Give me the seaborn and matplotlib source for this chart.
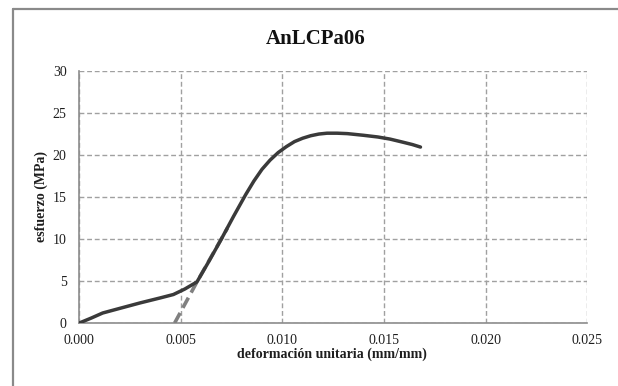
import numpy as np
import pandas as pd
import matplotlib
matplotlib.use("Agg")
import matplotlib.pyplot as plt
from matplotlib.lines import Line2D
import seaborn as sns

# Curva esfuerzo-deformacion
deformacion = [0.0, 0.0006, 0.00116, 0.0020, 0.0030, 0.0040, 0.00464, 0.0052, 0.0058,
               0.0064, 0.0070, 0.0076, 0.0082, 0.0086, 0.0090, 0.0094, 0.0098,
               0.0102, 0.0106, 0.0110, 0.0114, 0.0118, 0.0122, 0.0127, 0.0132,
               0.0140, 0.0147, 0.0153, 0.0159, 0.0164, 0.0168]
esfuerzo = [0.0, 0.6, 1.2, 1.75, 2.4, 3.0, 3.4, 4.05, 4.9,
            7.4, 10.0, 12.7, 15.3, 16.9, 18.3, 19.4, 20.3,
            21.0, 21.6, 22.0, 22.3, 22.5, 22.6, 22.6, 22.55,
            22.35, 22.15, 21.9, 21.55, 21.25, 20.95]

# Recta de descarga / desplazamiento (discontinua)
recta_x = [0.0047, 0.0058, 0.0073]
recta_y = [0.0, 4.9, 11.3]

curva = pd.DataFrame({"x": deformacion, "y": esfuerzo})
recta = pd.DataFrame({"x": recta_x, "y": recta_y})

sns.set_style("white")
plt.rcParams["font.family"] = ["Liberation Serif", "DejaVu Serif"]

fig = plt.figure(figsize=(6.18, 3.86), dpi=100)
ax = fig.add_axes([0.128, 0.163, 0.822, 0.653])

sns.lineplot(data=recta, x="x", y="y", ax=ax, color="#808080", lw=2.6,
             linestyle=(0, (3.2, 1.6)), sort=False, zorder=3)
sns.lineplot(data=curva, x="x", y="y", ax=ax, color="#3a3a3a", lw=2.5,
             sort=False, zorder=4)

ax.set_xlim(0, 0.025)
ax.set_ylim(0, 30)
ax.set_xticks(np.arange(0, 0.0251, 0.005))
ax.set_yticks(np.arange(0, 31, 5))
ax.set_xticklabels([f"{v:.3f}" for v in np.arange(0, 0.0251, 0.005)])
ax.tick_params(axis="x", labelsize=10, length=0, pad=8, colors="#1e1e1e")
ax.tick_params(axis="y", labelsize=10, length=0, pad=9, colors="#1e1e1e")

ax.grid(True, color="#a0a0a0", linestyle=(0, (3.5, 2)), lw=1.0)
for s in ["top", "right"]:
    ax.spines[s].set_visible(False)
for s in ["left", "bottom"]:
    ax.spines[s].set_color("#8c8c8c")
    ax.spines[s].set_linewidth(1.2)

ax.set_xlabel("")
ax.set_ylabel("")
fig.text(0.537, 0.083, "deformación unitaria (mm/mm)", ha="center", va="center",
         fontsize=10, fontweight="bold", color="#1e1e1e")
fig.text(0.066, 0.49, "esfuerzo (MPa)", ha="center", va="center", rotation=90,
         fontsize=10, fontweight="bold", color="#1e1e1e")
fig.text(0.51, 0.9, "AnLCPa06", ha="center", va="center",
         fontsize=15, fontweight="bold", color="#111111")

# marco exterior del grafico
fig.add_artist(Line2D([0.021, 0.021], [0.0, 0.977], transform=fig.transFigure,
                      color="#8a8a8a", lw=1.6))
fig.add_artist(Line2D([0.021, 1.0], [0.977, 0.977], transform=fig.transFigure,
                      color="#8a8a8a", lw=1.6))

fig.savefig("out.png", dpi=100)
